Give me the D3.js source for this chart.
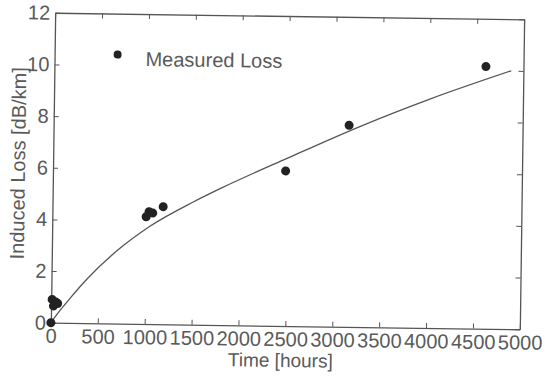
<!DOCTYPE html>
<html>
<head>
<meta charset="utf-8">
<script src="https://cdn.jsdelivr.net/npm/d3@7"></script>
<style>
  html, body { margin: 0; padding: 0; background: #fff; }
  svg { display: block; }
  text { font-family: "Liberation Sans", Arial, Helvetica, sans-serif; fill: #5a5a5a; }
</style>
</head>
<body>
<svg id="chart" width="545" height="376"></svg>
<script>
// Measured radiation-induced loss (hours, dB/km)
const measuredHours = [0, 10, 25, 50, 70, 1000, 1030, 1070, 1180, 2480, 3150, 4600];
const measuredLoss  = [0, 0.9, 0.65, 0.8, 0.75, 4.15, 4.35, 4.3, 4.55, 6.0, 7.8, 10.15];

// Fitted trend line, sampled along its length
const fitHours = [0, 100, 200, 374, 706, 1030, 1500, 1795, 2500, 3290, 4000, 4870];
const fitLoss  = [0, 0.5, 0.95, 1.69, 2.86, 3.76, 4.75, 5.3, 6.5, 7.8, 8.85, 10.0];

// Tick values
const xTicks = [0, 500, 1000, 1500, 2000, 2500, 3000, 3500, 4000, 4500, 5000];
const yTicks = [0, 2, 4, 6, 8, 10, 12];

const legendLabel = "Measured Loss";
const xTitle = "Time [hours]";
const yTitle = "Induced Loss [dB/km]";

const plot = { left: 53, right: 522, top: 16, bottom: 326 };
const axisColor = "#555";

const svg = d3.select("#chart");
// the whole figure sits slightly askew on the page
const root = svg.append("g").attr("transform", "rotate(0.8, 288, 171)");

const x = d3.scaleLinear().domain([0, 5000]).range([plot.left, plot.right]);
const y = d3.scaleLinear().domain([0, 12]).range([plot.bottom, plot.top]);

function styleAxis(g) {
  g.select(".domain").attr("stroke", axisColor).attr("stroke-width", 1.3);
  g.selectAll(".tick line").attr("stroke", axisColor).attr("stroke-width", 1);
  g.selectAll(".tick text").attr("fill", "#5a5a5a");
}

// bottom axis with labels
root.append("g")
  .attr("transform", `translate(0,${plot.bottom})`)
  .call(d3.axisBottom(x).tickValues(xTicks).tickSizeInner(-5).tickSizeOuter(0).tickPadding(6).tickFormat(d3.format("d")))
  .call(g => g.attr("font-size", 20).attr("font-family", null))
  .call(styleAxis);

// top axis, ticks only
root.append("g")
  .attr("transform", `translate(0,${plot.top})`)
  .call(d3.axisTop(x).tickValues(xTicks).tickSizeInner(-5).tickSizeOuter(0).tickFormat(""))
  .call(styleAxis);

// left axis with labels
root.append("g")
  .attr("transform", `translate(${plot.left},0)`)
  .call(d3.axisLeft(y).tickValues(yTicks).tickSizeInner(-5).tickSizeOuter(0).tickPadding(5).tickFormat(d3.format("d")))
  .call(g => g.attr("font-size", 20).attr("font-family", null))
  .call(styleAxis);

// right axis, ticks only
root.append("g")
  .attr("transform", `translate(${plot.right},0)`)
  .call(d3.axisRight(y).tickValues(yTicks).tickSizeInner(-5).tickSizeOuter(0).tickFormat(""))
  .call(styleAxis);

// fitted curve
const fitData = fitHours.map((h, i) => [h, fitLoss[i]]);
root.append("path")
  .datum(fitData)
  .attr("fill", "none")
  .attr("stroke", "#555")
  .attr("stroke-width", 1.3)
  .attr("d", d3.line().x(d => x(d[0])).y(d => y(d[1])).curve(d3.curveMonotoneX));

// measured points
const pts = measuredHours.map((h, i) => [h, measuredLoss[i]]);
root.append("g").selectAll("circle")
  .data(pts)
  .join("circle")
  .attr("cx", d => x(d[0]))
  .attr("cy", d => y(d[1]))
  .attr("r", 4.5)
  .attr("fill", "#222");

// legend
root.append("circle")
  .attr("cx", plot.left + 63).attr("cy", plot.top + 41)
  .attr("r", 4).attr("fill", "#222");
root.append("text")
  .attr("x", plot.left + 91).attr("y", plot.top + 52)
  .attr("font-size", 20)
  .text(legendLabel);

// axis titles
root.append("text")
  .attr("x", 283).attr("y", 367)
  .attr("text-anchor", "middle")
  .attr("font-size", 19)
  .text(xTitle);

root.append("text")
  .attr("transform", "translate(25,167) rotate(-90)")
  .attr("text-anchor", "middle")
  .attr("font-size", 20)
  .text(yTitle);
</script>
</body>
</html>
